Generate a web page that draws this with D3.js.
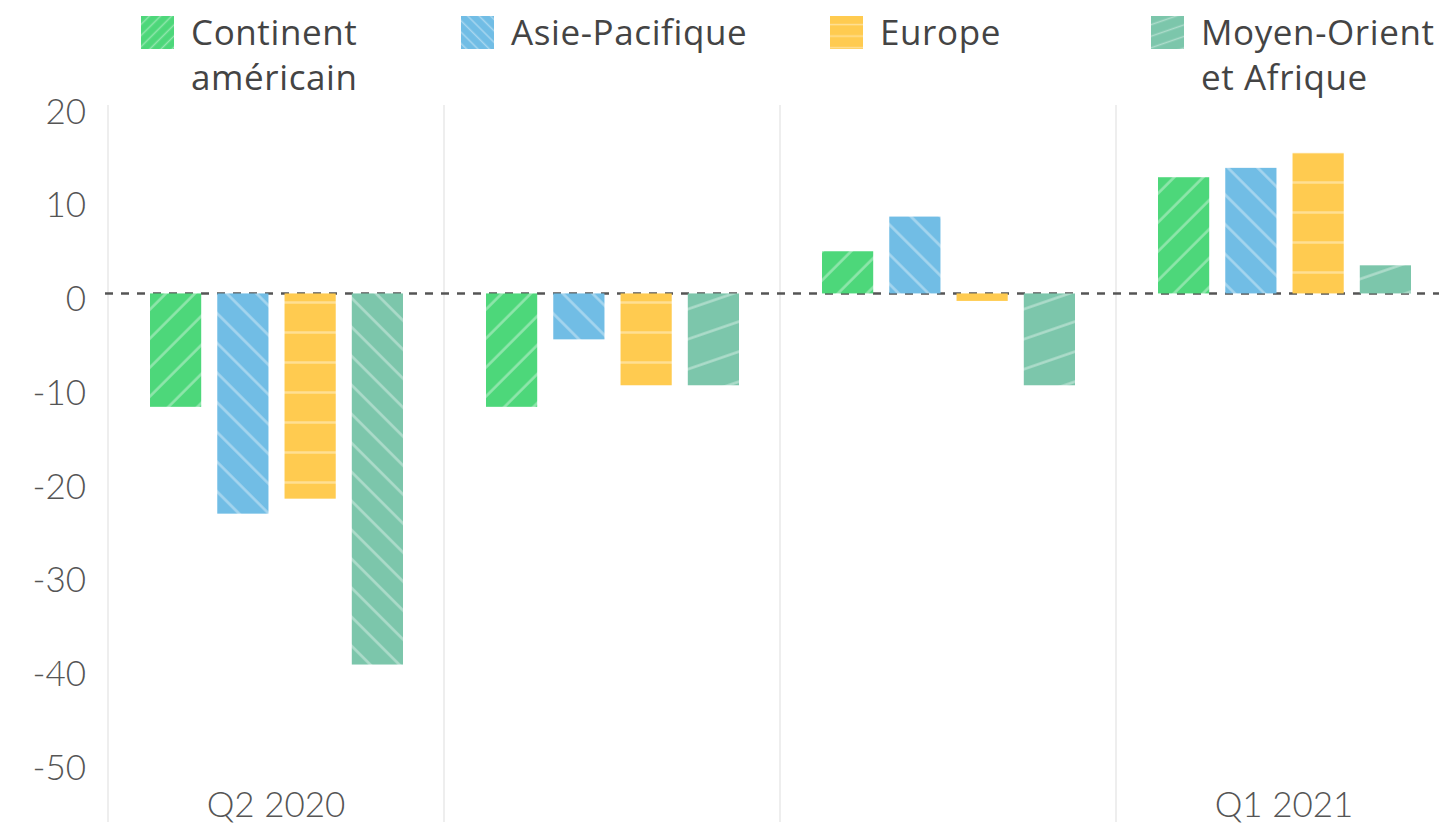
<!DOCTYPE html>
<html>
<head>
<meta charset="utf-8">
<script src="https://cdn.jsdelivr.net/npm/d3@7"></script>
<style>
  body { margin: 0; background: #fff; }
  svg { display: block; font-family: "Open Sans", sans-serif; }
  .axis text { fill: #555; font-size: 35px; font-weight: 300; font-family: "Lato", "Open Sans", sans-serif; }
  .legend text { fill: #444; font-size: 35px; letter-spacing: 0.6px; }
</style>
</head>
<body>
<div id="chart"></div>
<script>
// data
var quarters = ["Q2 2020", "Q3 2020", "Q4 2020", "Q1 2021"];
var quarterLabels = ["Q2 2020", "", "", "Q1 2021"];
var regions = ["Continent américain", "Asie-Pacifique", "Europe", "Moyen-Orient et Afrique"];
var americas = [-12.1, -12.1, 4.5, 12.4];
var asiaPacific = [-23.5, -4.9, 8.2, 13.4];
var europe = [-21.9, -9.8, -0.8, 15.0];
var mea = [-39.6, -9.8, -9.8, 3.0];
var yTicks = [20, 10, 0, -10, -20, -30, -40, -50];

var width = 1439, height = 827;

var series = [americas, asiaPacific, europe, mea];
var colors = ["#4dd77a", "#71bde5", "#ffcb50", "#7cc6ab"];
// hatch: [angle, spacing]
var hatches = [[45, 20.5], [-45, 21], [90, 30], [71, 28.4]];

var svg = d3.select("#chart").append("svg")
  .attr("width", width)
  .attr("height", height);

var defs = svg.append("defs");
function addPattern(id, color, angle, gap, sw) {
  var p = defs.append("pattern")
    .attr("id", id)
    .attr("patternUnits", "userSpaceOnUse")
    .attr("width", gap)
    .attr("height", gap)
    .attr("patternTransform", "rotate(" + angle + ")");
  p.append("rect").attr("width", gap).attr("height", gap).attr("fill", color);
  p.append("line")
    .attr("x1", sw).attr("x2", sw).attr("y1", 0).attr("y2", gap)
    .attr("stroke", "rgba(255,255,255,0.38)")
    .attr("stroke-width", sw);
}
regions.forEach(function(r, i) {
  addPattern("hatch" + i, colors[i], hatches[i][0], hatches[i][1], 2.5);
  // denser version for the small legend swatches
  addPattern("key" + i, colors[i], hatches[i][0], hatches[i][1] / 2.6, 1.5);
});
// the tall Moyen-Orient bar shows a steeper hatch in the original
addPattern("hatch3tall", colors[3], -45, 20.5, 2.5);

var x0 = d3.scaleBand().domain(quarters).range([108, 1452]);
var x1 = d3.scaleBand().domain(regions).range([42, 295]).paddingInner(16 / 67);
var y = d3.scaleLinear().domain([-50, 20]).range([762, 106]);

// vertical separators
svg.append("g").selectAll("line")
  .data(quarters)
  .enter().append("line")
  .attr("x1", function(d) { return x0(d); })
  .attr("x2", function(d) { return x0(d); })
  .attr("y1", 105).attr("y2", 822)
  .attr("stroke", "#eeeeee")
  .attr("stroke-width", 2);

// y axis
var yAxis = svg.append("g").attr("class", "axis")
  .attr("transform", "translate(86,6)")
  .call(d3.axisLeft(y).tickValues(yTicks).tickSize(0).tickPadding(0)
    .tickFormat(function(d) { return String(d); }));
yAxis.select(".domain").remove();
yAxis.selectAll("text").attr("fill", "#555");

// x axis
var xAxis = svg.append("g").attr("class", "axis")
  .attr("transform", "translate(0,762)")
  .call(d3.axisBottom(x0).tickSize(0)
    .tickFormat(function(d, i) { return quarterLabels[i]; }));
xAxis.select(".domain").remove();
xAxis.selectAll("text").attr("y", 55).attr("dy", 0).attr("fill", "#555");

// zero line
svg.append("line")
  .attr("x1", 105).attr("x2", width)
  .attr("y1", y(0)).attr("y2", y(0))
  .attr("stroke", "#555")
  .attr("stroke-width", 2.5)
  .attr("stroke-dasharray", "8,8");

// bars
var groups = svg.selectAll("g.quarter")
  .data(quarters)
  .enter().append("g")
  .attr("class", "quarter")
  .attr("transform", function(d) { return "translate(" + x0(d) + ",0)"; });

groups.selectAll("rect")
  .data(function(q, qi) {
    return regions.map(function(r, ri) { return { region: r, ri: ri, value: series[ri][qi] }; });
  })
  .enter().append("rect")
  .attr("x", function(d) { return x1(d.region); })
  .attr("width", x1.bandwidth())
  .attr("y", function(d) { return y(Math.max(0, d.value)); })
  .attr("height", function(d) { return Math.abs(y(d.value) - y(0)); })
  .attr("fill", function(d) {
    if (d.ri == 3 && d.value < -20) return "url(#hatch3tall)";
    return "url(#hatch" + d.ri + ")";
  });

// legend
var legendX = [141, 461, 830, 1151];
var legendLines = [["Continent", "américain"], ["Asie-Pacifique"], ["Europe"], ["Moyen-Orient", "et Afrique"]];
var legend = svg.append("g").attr("class", "legend");
regions.forEach(function(r, i) {
  var item = legend.append("g").attr("transform", "translate(" + legendX[i] + ",0)");
  item.append("rect")
    .attr("x", 0).attr("y", 16)
    .attr("width", 33).attr("height", 33)
    .attr("fill", "url(#key" + i + ")");
  var t = item.append("text").attr("x", 50).attr("y", 45);
  legendLines[i].forEach(function(l, j) {
    t.append("tspan").attr("x", 50).attr("y", 45 + j * 45).text(l);
  });
});
</script>
</body>
</html>
